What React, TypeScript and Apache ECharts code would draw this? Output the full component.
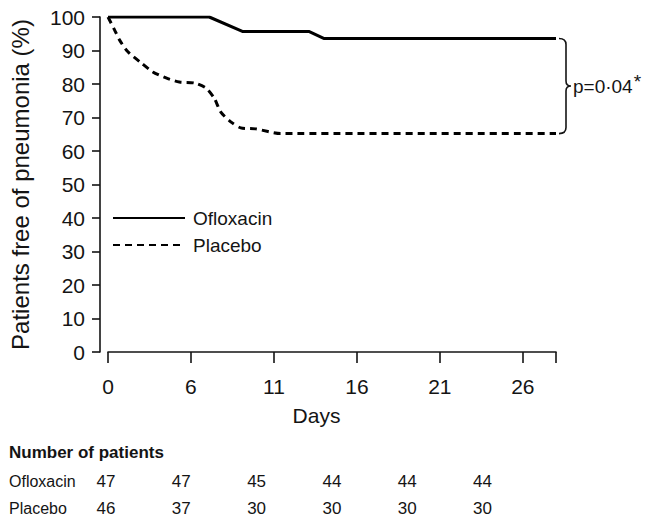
import React, { useEffect, useRef } from "react";
import * as echarts from "echarts";

// Kaplan–Meier estimates (% free of pneumonia) by day
const ofloxacinDays = [1, 7.1, 9.1, 13.1, 14.0, 28];
const ofloxacinPct = [100, 100, 95.7, 95.7, 93.6, 93.6];
const placeboDays = [1, 1.4, 1.7, 2.2, 3.0, 3.7, 4.5, 5.3, 6.2, 6.9, 7.4, 7.8, 8.4, 9.0, 9.9, 11.4, 28];
const placeboPct = [100, 96.1, 93.1, 89.6, 86.3, 83.6, 81.8, 80.6, 80.3, 78.8, 75.8, 71.6, 68.7, 66.9, 66.6, 65.2, 65.2];

// Number at risk table
const atRiskTitle = "Number of patients";
const atRiskGroups = ["Ofloxacin", "Placebo"];
const ofloxacinAtRisk = [47, 47, 45, 44, 44, 44];
const placeboAtRisk = [46, 37, 30, 30, 30, 30];

const pValueText = "p=0·04";

const FONT = "'Liberation Sans', Arial, sans-serif";
const INK = "#141414";

export default function App() {
  const ref = useRef<HTMLDivElement>(null);

  useEffect(() => {
    if (!ref.current) return;
    const chart = echarts.init(ref.current, undefined, { renderer: "svg" });

    const zip = (xs: number[], ys: number[]) => xs.map((x, i) => [x, ys[i]]);

    // at-risk table as text rows
    const colStart = 106;
    const colStep = 75.3;
    const tableRows = [ofloxacinAtRisk, placeboAtRisk];
    const tableGraphics: any[] = [
      {
        type: "text",
        left: 9,
        top: 444,
        style: { text: atRiskTitle, font: `bold 17px ${FONT}`, fill: INK },
      },
    ];
    tableRows.forEach((row, r) => {
      const y = 481 + r * 27;
      tableGraphics.push({
        type: "text",
        x: 9,
        y,
        style: {
          text: atRiskGroups[r],
          font: `16px ${FONT}`,
          fill: INK,
          align: "left",
          verticalAlign: "middle",
        },
      });
      row.forEach((v, c) => {
        tableGraphics.push({
          type: "text",
          x: colStart + c * colStep,
          y,
          style: {
            text: String(v),
            font: `17px ${FONT}`,
            fill: INK,
            align: "center",
            verticalAlign: "middle",
          },
        });
      });
    });

    const finalOflox = ofloxacinPct[ofloxacinPct.length - 1];
    const finalPlacebo = placeboPct[placeboPct.length - 1];
    const lastDay = ofloxacinDays[ofloxacinDays.length - 1];

    chart.setOption({
      animation: false,
      textStyle: { fontFamily: FONT, color: INK },
      grid: { left: 103, right: 93, top: 17, bottom: 165, containLabel: false },
      legend: {
        data: ["Ofloxacin", "Placebo"],
        orient: "vertical",
        left: 107,
        top: 203,
        itemWidth: 72,
        itemHeight: 14,
        itemGap: 7,
        itemStyle: { opacity: 0 },
        textStyle: { fontSize: 19, color: INK, fontFamily: FONT, lineHeight: 20, padding: [0, 0, 0, 3] },
        selectedMode: false,
      },
      xAxis: {
        type: "value",
        min: 1,
        max: 28,
        interval: 5,
        offset: 10,
        name: "Days",
        nameLocation: "middle",
        nameGap: 43,
        nameTextStyle: { fontSize: 21, color: INK, padding: [0, 31, 0, 0] },
        axisLine: { lineStyle: { color: INK, width: 1.6 } },
        axisTick: { show: true, length: 11, lineStyle: { color: INK, width: 1.6 } },
        axisLabel: {
          fontSize: 21,
          color: INK,
          margin: 14,
          formatter: (v: number) => (v === 1 ? "0" : v === 28 ? "" : String(v)),
        },
        splitLine: { show: false },
      },
      yAxis: {
        type: "value",
        min: 0,
        max: 100,
        interval: 10,
        offset: 8,
        name: "Patients free of pneumonia (%)",
        nameLocation: "middle",
        nameGap: 68,
        nameTextStyle: { fontSize: 24, color: INK },
        axisLine: { show: true, lineStyle: { color: INK, width: 1.6 } },
        axisTick: { show: true, length: 8, lineStyle: { color: INK, width: 1.6 } },
        axisLabel: { fontSize: 21, color: INK, margin: 15 },
        splitLine: { show: false },
      },
      series: [
        {
          name: "Ofloxacin",
          type: "line",
          data: zip(ofloxacinDays, ofloxacinPct),
          symbol: "none",
          lineStyle: { color: "#000", width: 3, type: "solid" },
          itemStyle: { color: "#000" },
        },
        {
          name: "Placebo",
          type: "line",
          data: zip(placeboDays, placeboPct),
          symbol: "none",
          smooth: 0.25,
          lineStyle: { color: "#000", width: 3, type: [7, 5] },
          itemStyle: { color: "#000" },
        },
        {
          // brace linking the two final estimates, with the p value
          type: "custom",
          silent: true,
          clip: false,
          data: [[lastDay, finalOflox, finalPlacebo]],
          renderItem: (_params: any, api: any) => {
            const top = api.coord([api.value(0), api.value(1)]);
            const bot = api.coord([api.value(0), api.value(2)]);
            const x = top[0] + 3;
            const yT = top[1];
            const yB = bot[1];
            const ym = (yT + yB) / 2;
            const w = 7;
            const d =
              `M${x} ${yT} Q${x + w} ${yT} ${x + w} ${yT + 6} ` +
              `L${x + w} ${ym - 5} Q${x + w} ${ym} ${x + w + 5} ${ym} ` +
              `Q${x + w} ${ym} ${x + w} ${ym + 5} L${x + w} ${yB - 6} ` +
              `Q${x + w} ${yB} ${x} ${yB}`;
            return {
              type: "group",
              children: [
                {
                  type: "path",
                  shape: { pathData: d },
                  style: { fill: "none", stroke: INK, lineWidth: 1.6 },
                },
                {
                  type: "text",
                  x: x + w + 7,
                  y: ym,
                  style: {
                    text: `{m|${pValueText}}{s|*}`,
                    align: "left",
                    verticalAlign: "middle",
                    rich: {
                      m: { fontSize: 19, fontFamily: FONT, fill: INK, color: INK },
                      s: { fontSize: 19, fontFamily: FONT, fill: INK, color: INK, verticalAlign: "top", padding: [0, 0, 9, 1] },
                    },
                  },
                },
              ],
            };
          },
        },
      ],
      graphic: tableGraphics,
    });

    return () => chart.dispose();
  }, []);

  return (
    <div
      ref={ref}
      style={{ position: "fixed", left: 0, top: 0, width: 649, height: 517, background: "#fff" }}
    />
  );
}
